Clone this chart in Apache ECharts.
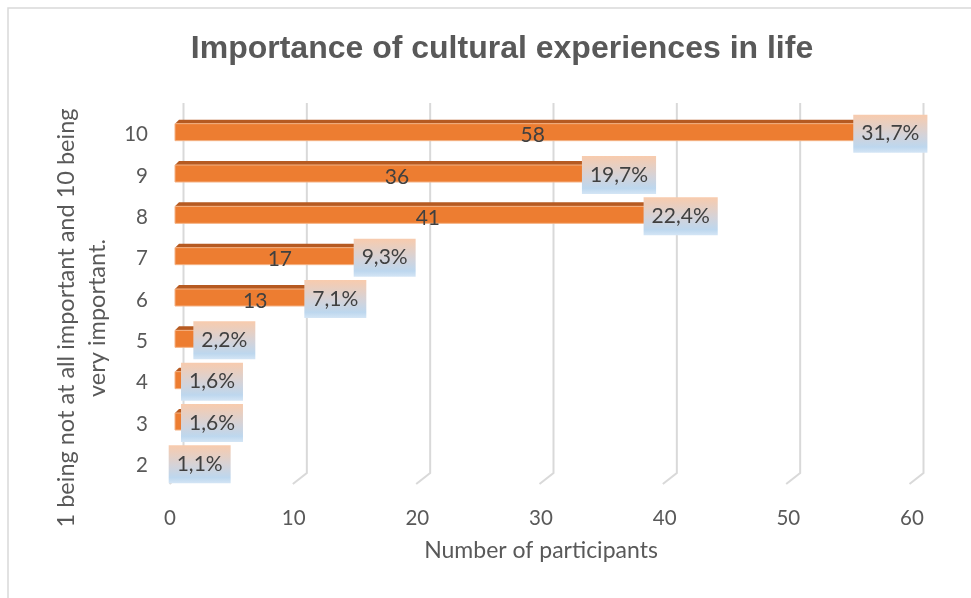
<!DOCTYPE html>
<html>
<head>
<meta charset="utf-8">
<script src="https://cdn.jsdelivr.net/npm/echarts@6/dist/echarts.min.js"></script>
<style>
  html, body { margin: 0; padding: 0; background: #fff; }
  #chart { width: 971px; height: 598px; }
</style>
</head>
<body>
<div id="chart"></div>
<script>
// Rating categories (1 = not at all important, 10 = very important)
const categories = ['2', '3', '4', '5', '6', '7', '8', '9', '10'];
// Number of participants per rating
const counts = [2, 3, 3, 4, 13, 17, 41, 36, 58];
// Share of all respondents, in percent
const shares = [1.1, 1.6, 1.6, 2.2, 7.1, 9.3, 22.4, 19.7, 31.7];
// Value axis ticks
const xTicks = [0, 10, 20, 30, 40, 50, 60];

const chart = echarts.init(document.getElementById('chart'), null, { renderer: 'canvas' });

const labelFont = 'Lato, "Open Sans", sans-serif';
const fmtPct = v => v.toFixed(1).replace('.', ',') + '%';

const barData = counts.map((v, i) => [v, i]);
const boxData = counts.map((v, i) => [v, i, shares[i]]);

// Back-wall gridlines with a slanted foot towards the floor
function renderGrid(params, api) {
  const p = api.coord([api.value(0), 0]);
  const cs = params.coordSys;
  const bx = p[0] + 8.5;
  const top = cs.y - 11;
  const bottom = cs.y + cs.height - 13;
  return {
    type: 'polyline',
    shape: { points: [[bx, top], [bx, bottom], [bx - 14, bottom + 11]] },
    style: { stroke: '#D9D9D9', lineWidth: 2, fill: null },
    silent: true
  };
}

// Bars drawn with a darker top face for the 3-D look
function renderBar(params, api) {
  const v = api.value(0);
  const ci = api.value(1);
  const s = api.coord([0, ci]);
  const e = api.coord([v, ci]);
  const c = s[1];
  const x0 = s[0], x1 = e[0];
  const d = 4;
  return {
    type: 'group',
    children: [
      {
        type: 'polygon',
        shape: { points: [[x0, c - 11], [x0 + d, c - 15], [x1 + d, c - 15], [x1, c - 11]] },
        style: { fill: '#B65A21' }
      },
      {
        type: 'rect',
        shape: { x: x0, y: c - 11, width: x1 - x0, height: 17 },
        style: { fill: '#ED7D31', stroke: '#F4B183', lineWidth: 1 }
      },
      {
        type: 'text',
        x: (x0 + x1) / 2,
        y: c + 1,
        style: {
          text: String(v),
          align: 'center',
          verticalAlign: 'middle',
          font: '21px ' + labelFont,
          fill: '#404040'
        }
      }
    ]
  };
}

// Percentage call-outs centred on the bar ends
function renderBox(params, api) {
  const v = api.value(0);
  const ci = api.value(1);
  const pct = api.value(2);
  const e = api.coord([v, ci]);
  return {
    type: 'text',
    x: e[0],
    y: e[1] - 1,
    style: {
      text: fmtPct(pct),
      align: 'center',
      verticalAlign: 'middle',
      font: '21px ' + labelFont,
      lineHeight: 22,
      fill: '#404040',
      padding: [8, 8, 8, 8],
      backgroundColor: new echarts.graphic.LinearGradient(0, 0, 0, 1, [
        { offset: 0, color: '#F8CBAD' },
        { offset: 0.55, color: '#D3D3DA' },
        { offset: 0.85, color: '#BDD7EE' },
        { offset: 1, color: '#D4E5F5' }
      ])
    }
  };
}

chart.setOption({
  backgroundColor: '#ffffff',
  animation: false,
  title: {
    text: 'Importance of cultural experiences in life',
    left: 497,
    top: 28,
    textAlign: 'center',
    textStyle: {
      fontFamily: '"Liberation Sans", Arial, sans-serif',
      fontWeight: 'bold',
      fontSize: 32,
      color: '#595959'
    }
  },
  graphic: [{
    type: 'rect',
    shape: { x: 8, y: 8, width: 990, height: 620 },
    style: { fill: null, stroke: '#D9D9D9', lineWidth: 1.5 },
    silent: true
  }],
  grid: [
    { left: 170, width: 742, top: 114, height: 372 },
    { left: 175, width: 740, top: 114, height: 372 }
  ],
  xAxis: [
    {
      gridIndex: 0, type: 'value', min: 0, max: 60, interval: 10,
      axisLine: { show: false }, axisTick: { show: false }, splitLine: { show: false },
      axisLabel: { margin: 22, fontSize: 20.5, color: '#595959', fontFamily: labelFont },
      name: 'Number of participants',
      nameLocation: 'middle',
      nameGap: 53,
      nameTextStyle: { fontSize: 23, color: '#595959', fontFamily: labelFont }
    },
    {
      gridIndex: 1, type: 'value', min: 0, max: 60, interval: 10,
      axisLine: { show: false }, axisTick: { show: false }, splitLine: { show: false },
      axisLabel: { show: false }
    }
  ],
  yAxis: [
    {
      gridIndex: 0, type: 'category', data: categories,
      axisLine: { show: false }, axisTick: { show: false },
      axisLabel: { margin: 22, fontSize: 20.5, color: '#595959', fontFamily: labelFont },
      name: '1 being not at all important and 10 being\nvery important.',
      nameLocation: 'middle',
      nameGap: 50,
      nameRotate: 90,
      nameTextStyle: {
        fontSize: 23.5, lineHeight: 31, color: '#595959', fontFamily: labelFont,
        padding: [0, 36, 0, 0]
      }
    },
    {
      gridIndex: 1, type: 'category', data: categories,
      axisLine: { show: false }, axisTick: { show: false },
      axisLabel: { show: false }
    }
  ],
  series: [
    {
      type: 'custom', xAxisIndex: 1, yAxisIndex: 1, z: 1,
      data: xTicks.map(t => [t]),
      encode: { x: 0 },
      renderItem: renderGrid
    },
    {
      type: 'custom', xAxisIndex: 1, yAxisIndex: 1, z: 2,
      data: barData,
      encode: { x: 0, y: 1 },
      renderItem: renderBar
    },
    {
      type: 'custom', xAxisIndex: 1, yAxisIndex: 1, z: 3,
      data: boxData,
      encode: { x: 0, y: 1 },
      renderItem: renderBox
    }
  ]
});
</script>
</body>
</html>
